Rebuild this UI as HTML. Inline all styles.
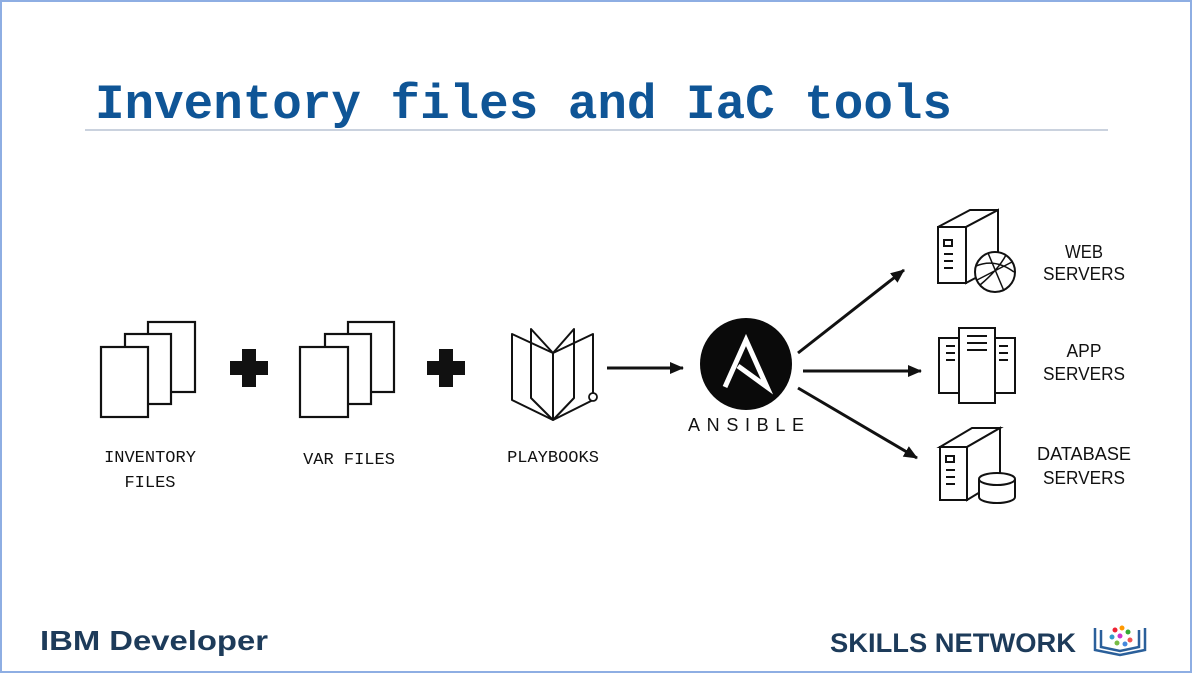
<!DOCTYPE html>
<html><head><meta charset="utf-8"><style>
html,body{margin:0;padding:0;background:#fff}
svg{display:block}
</style></head><body>
<svg width="1192" height="673" viewBox="0 0 1192 673" xmlns="http://www.w3.org/2000/svg">
<rect x="1" y="1" width="1190" height="671" fill="#fff" stroke="#8eaee3" stroke-width="2"/>
<text x="95" y="118" font-family="Liberation Mono, monospace" font-weight="bold" font-size="49" fill="#0f5596" textLength="857" lengthAdjust="spacingAndGlyphs">Inventory files and IaC tools</text>
<line x1="85" y1="130" x2="1108" y2="130" stroke="#b9c3d3" stroke-width="1.5"/>
<g fill="#fff" stroke="#111" stroke-width="2.2">
<rect x="148" y="322" width="47" height="70"/>
<rect x="125" y="334" width="46" height="70"/>
<rect x="101" y="347" width="47" height="70"/>
<rect x="348" y="322" width="46" height="70"/>
<rect x="325" y="334" width="46" height="70"/>
<rect x="300" y="347" width="48" height="70"/>
</g>
<g fill="#111">
<rect x="230" y="361" width="38" height="14"/><rect x="242" y="349" width="14" height="38"/>
<rect x="427" y="361" width="38" height="14"/><rect x="439" y="349" width="14" height="38"/>
</g>
<g fill="none" stroke="#111" stroke-width="2" stroke-linejoin="round">
<polyline points="553,353 512,334 512,400 553,420 593,400 593,334 553,353"/>
<polyline points="553,353 531,329 531,398 553,420"/>
<polyline points="553,353 574,329 574,398 553,420"/>
<line x1="553" y1="353" x2="553" y2="420"/>
</g>
<circle cx="593" cy="397" r="4" fill="#fff" stroke="#111" stroke-width="1.8"/>
<g font-family="Liberation Mono, monospace" font-size="17" fill="#111" text-anchor="middle">
<text x="150" y="462">INVENTORY</text><text x="150" y="487">FILES</text>
<text x="349" y="464">VAR FILES</text>
<text x="553" y="462">PLAYBOOKS</text>
</g>
<defs><marker id="ah" markerWidth="16" markerHeight="14" refX="13" refY="7" orient="auto" markerUnits="userSpaceOnUse"><path d="M0,1 L14,7 L0,13 z" fill="#111"/></marker></defs>
<g stroke="#111" stroke-width="3" marker-end="url(#ah)">
<line x1="607" y1="368" x2="683" y2="368"/>
<line x1="798" y1="353" x2="904" y2="270"/>
<line x1="803" y1="371" x2="921" y2="371"/>
<line x1="798" y1="388" x2="917" y2="458"/>
</g>
<circle cx="746" cy="364" r="46" fill="#0a0a0a"/>
<path d="M725,387 L746,340 L767,387 L738,366" fill="none" stroke="#fff" stroke-width="5" stroke-linejoin="miter"/>
<text x="746" y="431" font-family="Liberation Sans, sans-serif" font-size="18" fill="#111" text-anchor="middle" textLength="116" lengthAdjust="spacing">ANSIBLE</text>
<g fill="#fff" stroke="#111" stroke-width="2">
<polygon points="938,227 966,227 966,283 938,283"/>
<polygon points="938,227 970,210 998,210 966,227"/>
<polygon points="966,227 998,210 998,266 966,283"/>
<rect x="944" y="240" width="8" height="6"/>
<line x1="944" y1="254" x2="953" y2="254"/><line x1="944" y1="261" x2="953" y2="261"/><line x1="944" y1="268" x2="953" y2="268"/>
<circle cx="995" cy="272" r="20"/>
<path d="M976,266 Q995,258 1014,272 M980,285 Q998,270 1006,255 M988,253 L1004,291 M977,280 L1012,262" fill="none" stroke-width="1.5"/>
<rect x="939" y="338" width="76" height="55"/>
<rect x="959" y="328" width="36" height="75"/>
<line x1="967" y1="336" x2="987" y2="336"/><line x1="967" y1="343" x2="987" y2="343"/><line x1="967" y1="350" x2="987" y2="350"/>
<line x1="946" y1="346" x2="955" y2="346"/><line x1="946" y1="353" x2="955" y2="353"/><line x1="946" y1="360" x2="955" y2="360"/>
<line x1="999" y1="346" x2="1008" y2="346"/><line x1="999" y1="353" x2="1008" y2="353"/><line x1="999" y1="360" x2="1008" y2="360"/>
<polygon points="940,447 967,447 967,500 940,500"/>
<polygon points="940,447 972,428 1000,428 967,447"/>
<polygon points="967,447 1000,428 1000,480 967,500"/>
<rect x="946" y="456" width="8" height="6"/>
<line x1="946" y1="470" x2="955" y2="470"/><line x1="946" y1="477" x2="955" y2="477"/><line x1="946" y1="484" x2="955" y2="484"/>
<path d="M979,479 L979,497 A18,6 0 0 0 1015,497 L1015,479 A18,6 0 0 0 979,479 A18,6 0 0 0 1015,479" />
</g>
<g font-family="Liberation Sans, sans-serif" font-size="18" fill="#111" text-anchor="middle">
<text x="1084" y="258" textLength="38" lengthAdjust="spacingAndGlyphs">WEB</text>
<text x="1084" y="280" textLength="82" lengthAdjust="spacingAndGlyphs">SERVERS</text>
<text x="1084" y="357" textLength="35" lengthAdjust="spacingAndGlyphs">APP</text>
<text x="1084" y="380" textLength="82" lengthAdjust="spacingAndGlyphs">SERVERS</text>
<text x="1084" y="460" textLength="94" lengthAdjust="spacingAndGlyphs">DATABASE</text>
<text x="1084" y="484" textLength="82" lengthAdjust="spacingAndGlyphs">SERVERS</text>
</g>
<text x="40" y="650" font-family="Liberation Sans, sans-serif" font-weight="bold" font-size="28" fill="#1d3b5a" textLength="228" lengthAdjust="spacingAndGlyphs">IBM Developer</text>
<text x="830" y="652" font-family="Liberation Sans, sans-serif" font-weight="bold" font-size="27" fill="#1d3b5a" textLength="246" lengthAdjust="spacingAndGlyphs">SKILLS NETWORK</text>
<g fill="none" stroke="#2a5f9a" stroke-width="2.5">
<path d="M1095,628 L1095,650 L1120,655 L1145,650 L1145,628"/>
<path d="M1101,630 L1101,647 L1120,651 L1139,647 L1139,630"/>
</g>
<g>
<circle cx="1115" cy="630" r="2.5" fill="#e23"/><circle cx="1122" cy="628" r="2.5" fill="#f90"/><circle cx="1128" cy="632" r="2.5" fill="#3a3"/>
<circle cx="1112" cy="637" r="2.5" fill="#39c"/><circle cx="1120" cy="636" r="2.5" fill="#c3c"/><circle cx="1130" cy="640" r="2.5" fill="#e55"/>
<circle cx="1117" cy="643" r="2.5" fill="#7b4"/><circle cx="1125" cy="644" r="2.5" fill="#48d"/>
</g>
</svg>
</body></html>
